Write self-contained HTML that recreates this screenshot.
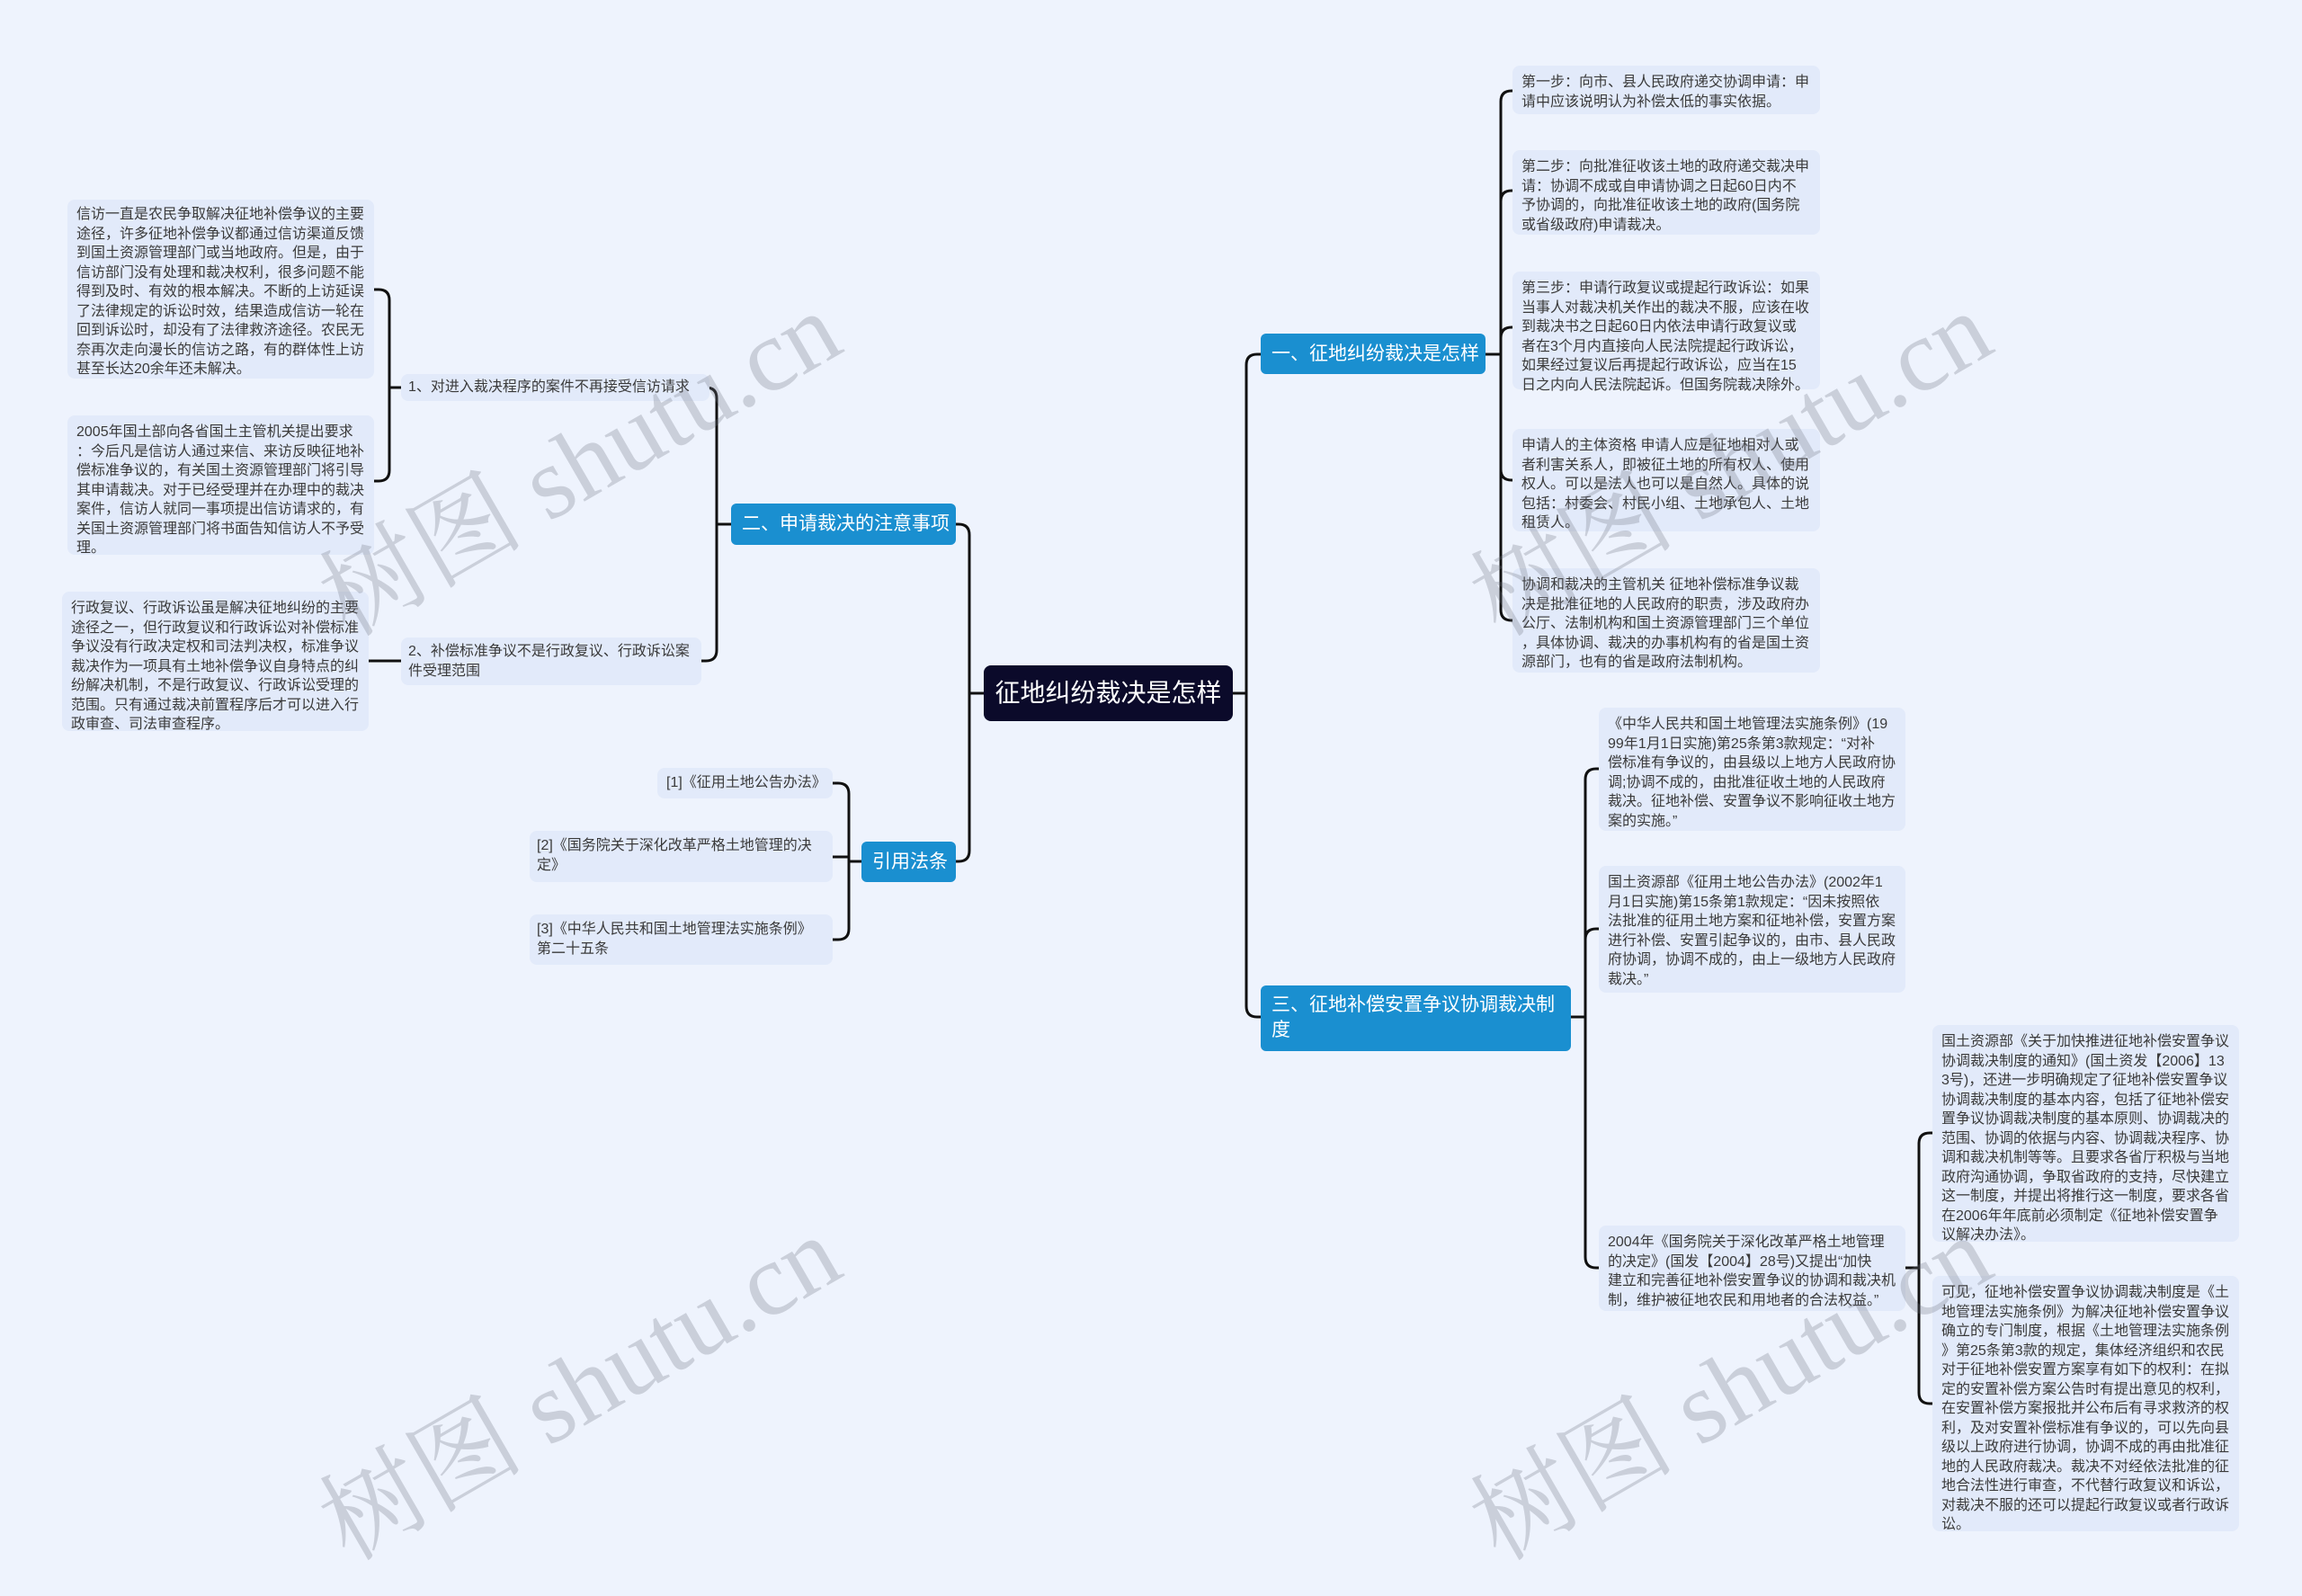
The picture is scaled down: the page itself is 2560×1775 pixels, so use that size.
<!DOCTYPE html>
<html><head><meta charset="utf-8"><style>
html,body{margin:0;padding:0}
body{width:2560px;height:1775px;background:#eef3fd;position:relative;overflow:hidden;font-family:"Liberation Sans","Noto Sans CJK SC",sans-serif}
.b{position:absolute;background:#e2eafa;border-radius:8px;color:#3a3a3a;font-size:16px;line-height:21.5px;padding:8px 10px;box-sizing:border-box;white-space:nowrap}
.m{position:absolute;background:#1a8fd0;color:#fff;border-radius:6px;font-size:21px;line-height:28px;padding:8px 12px;box-sizing:border-box;white-space:nowrap}
.wm{position:absolute;font-family:"Liberation Serif","Noto Serif CJK SC",serif;font-size:114px;color:rgba(110,115,130,0.28);transform:rotate(-30deg);white-space:nowrap;transform-origin:center}
svg{position:absolute;left:0;top:0}
</style></head><body>
<svg width="2560" height="1775" fill="none" stroke="#111" stroke-width="3">
<path d="M1371,771 H1386 V406 Q1386,394 1398,394 H1402"/>
<path d="M1386,771 V1119 Q1386,1131 1398,1131 H1402"/>
<path d="M1094,771 H1078 V595 Q1078,583 1066,583 H1063"/>
<path d="M1078,771 V946 Q1078,958 1066,958 H1063"/>
<path d="M1652,394 H1669 V113 Q1669,101 1681,101 H1682"/>
<path d="M1669,394 V224 Q1669,212 1681,212 H1682"/>
<path d="M1669,394 V376 Q1669,364 1681,364 H1682"/>
<path d="M1669,394 V522 Q1669,534 1681,534 H1682"/>
<path d="M1669,394 V678 Q1669,690 1681,690 H1682"/>
<path d="M1747,1131 H1763 V867 Q1763,855 1775,855 H1778"/>
<path d="M1763,1131 V1045 Q1763,1033 1775,1033 H1778"/>
<path d="M1763,1131 V1398 Q1763,1410 1775,1410 H1778"/>
<path d="M2119,1410 H2134 V1272 Q2134,1260 2146,1260 H2149"/>
<path d="M2134,1410 V1549 Q2134,1561 2146,1561 H2149"/>
<path d="M813,583 H797 V443 Q797,431 785,431 H789"/>
<path d="M797,583 V723 Q797,735 785,735 H780"/>
<path d="M446,431 H433 V334 Q433,322 421,322 H416"/>
<path d="M433,431 V523 Q433,535 421,535 H416"/>
<path d="M446,735 H410"/>
<path d="M958,958 H944 V883 Q944,871 932,871 H926"/>
<path d="M944,958 V953 H926"/>
<path d="M944,958 V1033 Q944,1045 932,1045 H926"/>
</svg>

<div style="position:absolute;left:1094px;top:740px;width:277px;height:62px;background:#0b0a2a;border-radius:8px;color:#fff;font-size:28px;line-height:62px;text-align:center">征地纠纷裁决是怎样</div>

<div class="m" style="left:1402px;top:371px;width:250px;height:45px;line-height:29px">一、征地纠纷裁决是怎样</div>
<div class="m" style="left:1402px;top:1096px;width:345px;height:73px">三、征地补偿安置争议协调裁决制<br>度</div>
<div class="m" style="left:813px;top:560px;width:250px;height:46px;line-height:30px">二、申请裁决的注意事项</div>
<div class="m" style="left:958px;top:936px;width:105px;height:45px;line-height:29px">引用法条</div>

<div class="b" style="left:1682px;top:73px;width:342px;height:54px">第一步：向市、县人民政府递交协调申请：申<br>请中应该说明认为补偿太低的事实依据。</div>
<div class="b" style="left:1682px;top:167px;width:342px;height:94px">第二步：向批准征收该土地的政府递交裁决申<br>请：协调不成或自申请协调之日起60日内不<br>予协调的，向批准征收该土地的政府(国务院<br>或省级政府)申请裁决。</div>
<div class="b" style="left:1682px;top:302px;width:342px;height:131px">第三步：申请行政复议或提起行政诉讼：如果<br>当事人对裁决机关作出的裁决不服，应该在收<br>到裁决书之日起60日内依法申请行政复议或<br>者在3个月内直接向人民法院提起行政诉讼，<br>如果经过复议后再提起行政诉讼，应当在15<br>日之内向人民法院起诉。但国务院裁决除外。</div>
<div class="b" style="left:1682px;top:477px;width:342px;height:114px">申请人的主体资格 申请人应是征地相对人或<br>者利害关系人，即被征土地的所有权人、使用<br>权人。可以是法人也可以是自然人。具体的说<br>包括：村委会、村民小组、土地承包人、土地<br>租赁人。</div>
<div class="b" style="left:1682px;top:632px;width:342px;height:116px">协调和裁决的主管机关 征地补偿标准争议裁<br>决是批准征地的人民政府的职责，涉及政府办<br>公厅、法制机构和国土资源管理部门三个单位<br>，具体协调、裁决的办事机构有的省是国土资<br>源部门，也有的省是政府法制机构。</div>

<div class="b" style="left:1778px;top:787px;width:341px;height:137px">《中华人民共和国土地管理法实施条例》(19<br>99年1月1日实施)第25条第3款规定：“对补<br>偿标准有争议的，由县级以上地方人民政府协<br>调;协调不成的，由批准征收土地的人民政府<br>裁决。征地补偿、安置争议不影响征收土地方<br>案的实施。”</div>
<div class="b" style="left:1778px;top:963px;width:341px;height:141px">国土资源部《征用土地公告办法》(2002年1<br>月1日实施)第15条第1款规定：“因未按照依<br>法批准的征用土地方案和征地补偿，安置方案<br>进行补偿、安置引起争议的，由市、县人民政<br>府协调，协调不成的，由上一级地方人民政府<br>裁决。”</div>
<div class="b" style="left:1778px;top:1363px;width:341px;height:95px">2004年《国务院关于深化改革严格土地管理<br>的决定》(国发【2004】28号)又提出“加快<br>建立和完善征地补偿安置争议的协调和裁决机<br>制，维护被征地农民和用地者的合法权益。”</div>
<div class="b" style="left:2149px;top:1140px;width:341px;height:241px">国土资源部《关于加快推进征地补偿安置争议<br>协调裁决制度的通知》(国土资发【2006】13<br>3号)，还进一步明确规定了征地补偿安置争议<br>协调裁决制度的基本内容，包括了征地补偿安<br>置争议协调裁决制度的基本原则、协调裁决的<br>范围、协调的依据与内容、协调裁决程序、协<br>调和裁决机制等等。且要求各省厅积极与当地<br>政府沟通协调，争取省政府的支持，尽快建立<br>这一制度，并提出将推行这一制度，要求各省<br>在2006年年底前必须制定《征地补偿安置争<br>议解决办法》。</div>
<div class="b" style="left:2149px;top:1419px;width:341px;height:284px">可见，征地补偿安置争议协调裁决制度是《土<br>地管理法实施条例》为解决征地补偿安置争议<br>确立的专门制度，根据《土地管理法实施条例<br>》第25条第3款的规定，集体经济组织和农民<br>对于征地补偿安置方案享有如下的权利：在拟<br>定的安置补偿方案公告时有提出意见的权利，<br>在安置补偿方案报批并公布后有寻求救济的权<br>利，及对安置补偿标准有争议的，可以先向县<br>级以上政府进行协调，协调不成的再由批准征<br>地的人民政府裁决。裁决不对经依法批准的征<br>地合法性进行审查，不代替行政复议和诉讼，<br>对裁决不服的还可以提起行政复议或者行政诉<br>讼。</div>

<div class="b" style="left:446px;top:416px;width:343px;height:30px;padding:4px 8px;line-height:22px">1、对进入裁决程序的案件不再接受信访请求</div>
<div class="b" style="left:446px;top:709px;width:334px;height:53px;padding:5px 8px">2、补偿标准争议不是行政复议、行政诉讼案<br>件受理范围</div>
<div class="b" style="left:75px;top:222px;width:341px;height:199px;padding-top:6px">信访一直是农民争取解决征地补偿争议的主要<br>途径，许多征地补偿争议都通过信访渠道反馈<br>到国土资源管理部门或当地政府。但是，由于<br>信访部门没有处理和裁决权利，很多问题不能<br>得到及时、有效的根本解决。不断的上访延误<br>了法律规定的诉讼时效，结果造成信访一轮在<br>回到诉讼时，却没有了法律救济途径。农民无<br>奈再次走向漫长的信访之路，有的群体性上访<br>甚至长达20余年还未解决。</div>
<div class="b" style="left:75px;top:462px;width:341px;height:155px">2005年国土部向各省国土主管机关提出要求<br>：今后凡是信访人通过来信、来访反映征地补<br>偿标准争议的，有关国土资源管理部门将引导<br>其申请裁决。对于已经受理并在办理中的裁决<br>案件，信访人就同一事项提出信访请求的，有<br>关国土资源管理部门将书面告知信访人不予受<br>理。</div>
<div class="b" style="left:69px;top:658px;width:341px;height:155px">行政复议、行政诉讼虽是解决征地纠纷的主要<br>途径之一，但行政复议和行政诉讼对补偿标准<br>争议没有行政决定权和司法判决权，标准争议<br>裁决作为一项具有土地补偿争议自身特点的纠<br>纷解决机制，不是行政复议、行政诉讼受理的<br>范围。只有通过裁决前置程序后才可以进入行<br>政审查、司法审查程序。</div>

<div class="b" style="left:731px;top:854px;width:195px;height:34px;padding:5px 10px;line-height:24px">[1]《征用土地公告办法》</div>
<div class="b" style="left:589px;top:924px;width:337px;height:57px;padding:6px 8px">[2]《国务院关于深化改革严格土地管理的决<br>定》</div>
<div class="b" style="left:589px;top:1017px;width:337px;height:56px;padding:6px 8px">[3]《中华人民共和国土地管理法实施条例》<br>第二十五条</div>

<div class="wm" style="left:320px;top:425px">树图 shutu.cn</div>
<div class="wm" style="left:1600px;top:425px">树图 shutu.cn</div>
<div class="wm" style="left:320px;top:1453px">树图 shutu.cn</div>
<div class="wm" style="left:1600px;top:1453px">树图 shutu.cn</div>
</body></html>
